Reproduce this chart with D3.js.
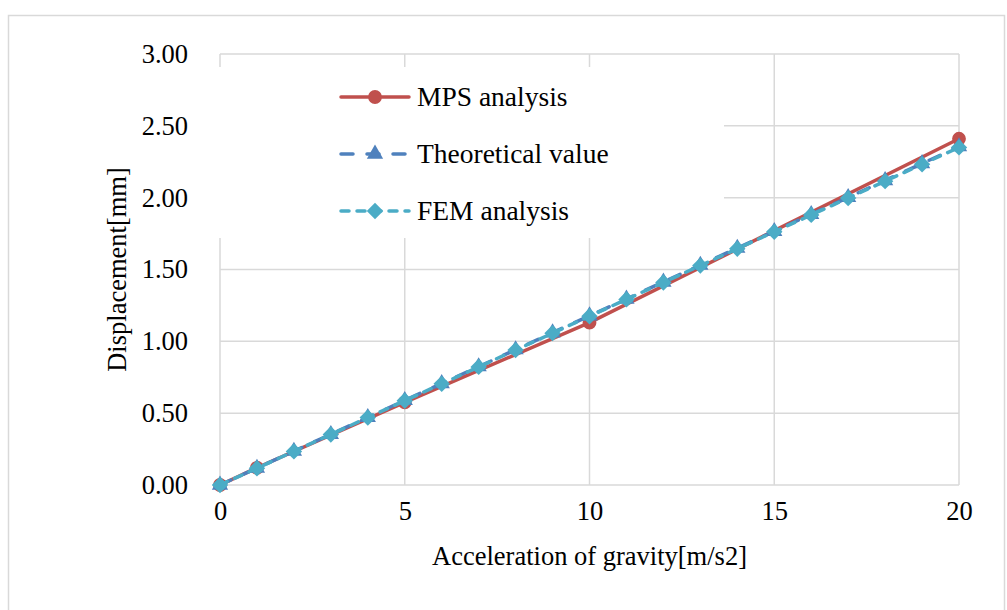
<!DOCTYPE html>
<html>
<head>
<meta charset="utf-8">
<script src="https://cdn.jsdelivr.net/npm/d3@7"></script>
<style>
  html, body { margin: 0; padding: 0; background: #fff; }
  svg { display: block; }
  svg text { font-family: "Liberation Serif", "DejaVu Serif", serif !important; fill: #000; }
</style>
</head>
<body>
<svg id="chart" width="1007" height="610"></svg>
<script>
// Gravity acceleration [m/s2] vs displacement [mm]
const mpsX = [0, 1, 5, 10, 20];
const mpsY = [0, 0.12, 0.575, 1.13, 2.41];

const accel = [0, 1, 2, 3, 4, 5, 6, 7, 8, 9, 10, 11, 12, 13, 14, 15, 16, 17, 18, 19, 20];
const theoretical = [0, 0.118, 0.236, 0.353, 0.471, 0.589, 0.707, 0.824, 0.942, 1.060, 1.178,
                     1.295, 1.413, 1.531, 1.649, 1.766, 1.884, 2.002, 2.120, 2.238, 2.355];
const fem = [0, 0.117, 0.234, 0.352, 0.469, 0.587, 0.704, 0.822, 0.939, 1.057, 1.175,
             1.292, 1.410, 1.527, 1.645, 1.762, 1.880, 1.997, 2.115, 2.232, 2.350];

const xTicks = [0, 5, 10, 15, 20];
const yTicks = [0, 0.5, 1.0, 1.5, 2.0, 2.5, 3.0];
const seriesNames = ["MPS analysis", "Theoretical value", "FEM analysis"];

const FONT = "'Liberation Serif', 'DejaVu Serif', serif";

const svg = d3.select("#chart");
const W = 1007, H = 610;
const plot = { left: 220, right: 959, top: 54, bottom: 485 };

const x = d3.scaleLinear().domain([0, 20]).range([plot.left, plot.right]);
const y = d3.scaleLinear().domain([0, 3]).range([plot.bottom, plot.top]);

const gridColor = "#d9d9d9";
const colors = { mps: "#c0504d", theo: "#4f81bd", fem: "#4bacc6" };

// background and outer frame
svg.append("rect").attr("width", W).attr("height", H).attr("fill", "#fff");
svg.append("rect")
  .attr("x", 8.5).attr("y", 15.5).attr("width", 996).attr("height", 610)
  .attr("fill", "none").attr("stroke", gridColor).attr("stroke-width", 1.5);

// gridlines
const grid = svg.append("g");
grid.selectAll("line.h").data(yTicks).join("line")
  .attr("x1", plot.left).attr("x2", plot.right)
  .attr("y1", d => y(d)).attr("y2", d => y(d))
  .attr("stroke", gridColor).attr("stroke-width", 1.5);
grid.selectAll("line.v").data(xTicks).join("line")
  .attr("y1", plot.top).attr("y2", plot.bottom)
  .attr("x1", d => x(d)).attr("x2", d => x(d))
  .attr("stroke", gridColor).attr("stroke-width", 1.5);

// axes (labels only; lines come from the grid)
const yAxis = d3.axisLeft(y).tickValues(yTicks).tickFormat(d3.format(".2f")).tickSize(0).tickPadding(32);
const xAxis = d3.axisBottom(x).tickValues(xTicks).tickFormat(d3.format("d")).tickSize(0).tickPadding(16);

const gy = svg.append("g").attr("transform", `translate(${plot.left},0)`).call(yAxis);
const gx = svg.append("g").attr("transform", `translate(0,${plot.bottom})`).call(xAxis);
[gx, gy].forEach(g => {
  g.attr("font-family", FONT).attr("font-size", 26.5);
  g.select(".domain").remove();
  g.selectAll("text").attr("font-size", 26.5).attr("font-family", FONT);
});

// axis titles
svg.append("text")
  .attr("x", (plot.left + plot.right) / 2).attr("y", 565)
  .attr("text-anchor", "middle").attr("font-size", 26.5).attr("font-family", FONT)
  .text("Acceleration of gravity[m/s2]");
svg.append("text")
  .attr("transform", `translate(126,${(plot.top + plot.bottom) / 2}) rotate(-90)`)
  .attr("text-anchor", "middle").attr("font-size", 26.5).attr("font-family", FONT)
  .text("Displacement[mm]");

// legend background hides gridlines behind it
svg.append("rect")
  .attr("x", 212).attr("y", 67).attr("width", 512).attr("height", 171)
  .attr("fill", "#fff");

// marker symbols
const circleSym = d3.symbol().type(d3.symbolCircle).size(150);
const triSym = d3.symbol().type(d3.symbolTriangle).size(115);
const diamondSym = d3.symbol().type(d3.symbolSquare).size(135);

const line = d3.line().x(d => x(d[0])).y(d => y(d[1]));

const mpsData = mpsX.map((v, i) => [v, mpsY[i]]);
const theoData = accel.map((v, i) => [v, theoretical[i]]);
const femData = accel.map((v, i) => [v, fem[i]]);

const styles = {
  mps: { color: colors.mps, dash: null, sym: circleSym, rot: 0 },
  theo: { color: colors.theo, dash: "12,14", sym: triSym, rot: 0 },
  fem: { color: colors.fem, dash: "8,8", sym: diamondSym, rot: 45 }
};

function drawSeries(data, s) {
  const g = svg.append("g");
  g.append("path").datum(data)
    .attr("d", line)
    .attr("fill", "none")
    .attr("stroke", s.color)
    .attr("stroke-width", 3.5)
    .attr("stroke-linecap", "round")
    .attr("stroke-linejoin", "round")
    .attr("stroke-dasharray", s.dash);
  g.selectAll("path.m").data(data).join("path")
    .attr("class", "m")
    .attr("d", s.sym)
    .attr("transform", d => `translate(${x(d[0])},${y(d[1])}) rotate(${s.rot})`)
    .attr("fill", s.color);
}

drawSeries(mpsData, styles.mps);
drawSeries(theoData, styles.theo);
drawSeries(femData, styles.fem);

// legend entries
const legendRows = [
  { name: seriesNames[0], s: styles.mps, y: 97 },
  { name: seriesNames[1], s: styles.theo, y: 154 },
  { name: seriesNames[2], s: styles.fem, y: 211 }
];
legendRows.forEach(r => {
  const g = svg.append("g");
  g.append("line")
    .attr("x1", 341).attr("x2", 409).attr("y1", r.y).attr("y2", r.y)
    .attr("stroke", r.s.color).attr("stroke-width", 3.5)
    .attr("stroke-linecap", "round")
    .attr("stroke-dasharray", r.s.dash);
  g.append("path")
    .attr("d", r.s.sym)
    .attr("transform", `translate(375,${r.y}) rotate(${r.s.rot})`)
    .attr("fill", r.s.color);
  g.append("text")
    .attr("x", 417).attr("y", r.y + 9)
    .attr("font-size", 27.5).attr("font-family", FONT)
    .text(r.name);
});
</script>
</body>
</html>
